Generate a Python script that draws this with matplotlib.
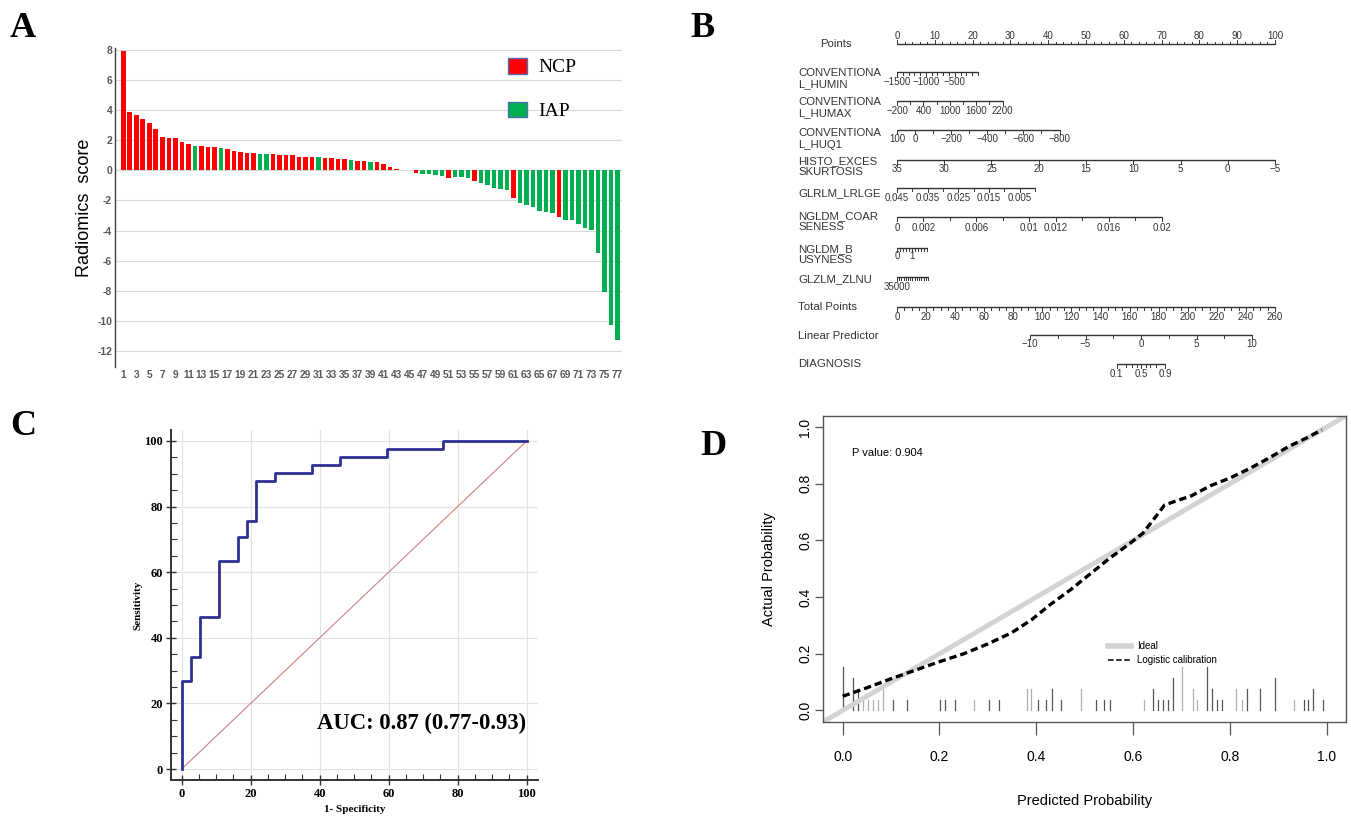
import numpy as np
import matplotlib
matplotlib.use("Agg")
import matplotlib.pyplot as plt
from matplotlib.patches import Patch
from matplotlib.lines import Line2D

# ---------------- data ----------------
# Panel A: radiomics score per case (sorted) and group
case_ids = list(range(1, 78))
radiomics_scores = [7.9, 3.9, 3.67, 3.38, 3.18, 2.73, 2.22, 2.16, 2.16, 1.89, 1.76, 1.64, 1.6, 1.53,
                    1.53, 1.47, 1.42, 1.27, 1.22, 1.16, 1.13, 1.11, 1.09, 1.07, 1.04, 1.0, 1.0, 0.89,
                    0.87, 0.87, 0.87, 0.82, 0.8, 0.78, 0.76, 0.71, 0.62, 0.62, 0.58, 0.58, 0.44, 0.22,
                    0.1, 0.04, 0.01,
                    -0.18, -0.22, -0.24, -0.29, -0.4, -0.49, -0.44, -0.44, -0.49, -0.73, -0.82, -0.96,
                    -1.18, -1.27, -1.33, -1.82, -2.18, -2.33, -2.44, -2.73, -2.78, -2.84, -3.07, -3.27,
                    -3.29, -3.56, -3.82, -3.93, -5.5, -8.1, -10.27, -11.29]
group_codes = ("NNNNNNNNNNN" "I" "NNN" "I" "NNNNN" "II" "NNNNNNN" "I" "NNNN" "I" "NN" "I"
               "NNNNN" "I" "N" "IIII" "N" "III" "N" "IIIII" "N" "IIIIII" "N" "IIIIIIIII")
group_names = {"N": "NCP", "I": "IAP"}
a_yticks = list(range(-12, 9, 2))

# Panel B: nomogram scales (value ticks, labelled values, value->points anchors)
points_ticks = list(range(0, 101, 2))
points_labels = list(range(0, 101, 10))
humin_ticks = list(range(-1500, -99, 100)); humin_labels = [-1500, -1000, -500]; humin_map = ((-1500, 0.0), (-100, 21.4))
humax_ticks = list(range(-200, 2201, 300)); humax_labels = [-200, 400, 1000, 1600, 2200]; humax_map = ((-200, 0.0), (2300, 29.1))
huq1_ticks = list(range(100, -801, -100)); huq1_labels = [100, 0, -200, -400, -600, -800]; huq1_map = ((100, 0.0), (-800, 43.0))
kurt_ticks = list(range(35, -6, -5)); kurt_labels = list(range(35, -6, -5)); kurt_map = ((35, 0.0), (-5, 100.0))
lrlge_ticks = [0.045, 0.04, 0.035, 0.03, 0.025, 0.02, 0.015, 0.01, 0.005, 0.0]
lrlge_labels = [0.045, 0.035, 0.025, 0.015, 0.005]; lrlge_map = ((0.045, 0.0), (0.0, 36.5))
coars_ticks = [0, 0.002, 0.004, 0.006, 0.008, 0.01, 0.012, 0.014, 0.016, 0.018, 0.02]
coars_labels = [0, 0.002, 0.006, 0.01, 0.012, 0.016, 0.02]; coars_map = ((0.0, 0.0), (0.02, 70.1))
busy_ticks = [0, 0.2, 0.4, 0.6, 0.8, 1.0, 1.2, 1.4, 1.6, 1.8, 2.0]; busy_labels = [0, 1]; busy_map = ((0, 0.0), (1, 4.0))
zlnu_ticks = list(range(35000, -1, -2500)); zlnu_labels = [35000]; zlnu_map = ((35000, 0.0), (0, 8.2))
total_ticks = list(range(0, 261, 5)); total_labels = list(range(0, 261, 20)); total_map = ((0, 0.0), (260, 100.0))
lp_ticks = [-10, -7.5, -5, -2.5, 0, 2.5, 5, 7.5, 10]; lp_labels = [-10, -5, 0, 5, 10]; lp_total = ((-10, 91.5), (10, 244.2))
diag_ticks = [0.1, 0.2, 0.3, 0.4, 0.5, 0.6, 0.7, 0.8, 0.9]; diag_labels = [0.1, 0.5, 0.9]

# Panel C: ROC curve (1-specificity, sensitivity), %
roc_fpr = [0, 0, 2.7, 5.4, 10.8, 16.2, 18.9, 21.6, 27.0, 37.8, 45.9, 59.5, 75.7, 100]
roc_tpr = [0, 26.8, 34.1, 46.3, 63.4, 70.7, 75.6, 87.8, 90.2, 92.7, 95.1, 97.6, 100, 100]
auc_text = "AUC: 0.87 (0.77-0.93)"

# Panel D: calibration
calib_x = [0.0, 0.05, 0.1, 0.15, 0.2, 0.25, 0.3, 0.35, 0.39, 0.43, 0.47, 0.51, 0.55, 0.59, 0.62,
           0.645, 0.665, 0.69, 0.72, 0.76, 0.80, 0.84, 0.88, 0.92, 0.96, 0.99]
calib_y = [0.05, 0.08, 0.112, 0.142, 0.172, 0.2, 0.235, 0.275, 0.32, 0.375, 0.425, 0.48, 0.535, 0.585, 0.625,
           0.68, 0.725, 0.74, 0.757, 0.793, 0.82, 0.853, 0.89, 0.93, 0.963, 0.99]
rug_x = [0.000, 0.021, 0.032, 0.043, 0.053, 0.063, 0.074, 0.083, 0.103, 0.132, 0.202, 0.211, 0.232, 0.271,
         0.303, 0.322, 0.381, 0.390, 0.403, 0.421, 0.432, 0.452, 0.492, 0.523, 0.540, 0.552, 0.623, 0.642,
         0.652, 0.662, 0.673, 0.683, 0.702, 0.723, 0.733, 0.752, 0.762, 0.773, 0.783, 0.813, 0.824, 0.835,
         0.862, 0.893, 0.932, 0.952, 0.962, 0.972, 0.993]
rug_count = [4, 3, 2, 1, 1, 1, 1, 2, 1, 1, 1, 1, 1, 1, 1, 1, 2, 2, 1, 1, 2, 1, 2, 1, 1, 1, 1, 2,
             1, 1, 1, 3, 4, 2, 1, 4, 2, 1, 1, 2, 1, 2, 2, 3, 1, 1, 1, 2, 1]
rug_light = [0, 0, 0, 1, 1, 1, 1, 1, 0, 0, 0, 0, 0, 1, 0, 0, 1, 1, 0, 0, 0, 0, 1, 0, 0, 0, 1, 0,
             0, 0, 0, 0, 1, 1, 1, 0, 0, 0, 0, 1, 1, 0, 0, 0, 1, 0, 0, 0, 0]
p_value_text = "P value: 0.904"

# ---------------- figure ----------------
W, H = 1351, 817
fig = plt.figure(figsize=(W / 100, H / 100), dpi=100)
fig.patch.set_facecolor("white")

SERIF = ["Liberation Serif", "DejaVu Serif"]
SANS = ["Liberation Sans", "DejaVu Sans"]


def px_axes(l, t, r, b):
    return fig.add_axes([l / W, 1 - b / H, (r - l) / W, (b - t) / H])


for letter, (lx, ly) in {"A": (10, 12), "B": (690, 12), "C": (10, 410), "D": (700, 430)}.items():
    fig.text(lx / W, 1 - ly / H, letter, family=SERIF, weight="bold", fontsize=26, ha="left", va="top")

# ---------------- Panel A ----------------
axA = px_axes(115, 48, 622, 366.8)
colors = {"NCP": "#FF0000", "IAP": "#00B050"}
bar_groups = [group_names[c] for c in group_codes]
axA.bar(case_ids, radiomics_scores, width=0.72, color=[colors[g] for g in bar_groups], zorder=3)
axA.set_xlim(1 - 1.28, 77 + 0.68)
axA.set_ylim(-13.05, 8.13)
for yv in a_yticks:
    axA.axhline(yv, color="#D9D9D9", lw=0.8, zorder=1)
axA.set_yticks(a_yticks)
axA.set_yticklabels([str(v) for v in a_yticks], family=SANS, weight="bold", fontsize=7.5, color="#595959")
axA.set_xticks(case_ids[::2])
axA.set_xticklabels([str(v) for v in case_ids[::2]], family=SANS, weight="bold", fontsize=7.3, color="#595959")
axA.tick_params(axis="both", length=0, pad=2)
for s in ["top", "right", "bottom"]:
    axA.spines[s].set_visible(False)
axA.spines["left"].set_color("#404040")
axA.spines["left"].set_linewidth(1.0)
axA.set_ylabel("Radiomics  score", family=SANS, fontsize=13, labelpad=3)
handles = [Patch(facecolor=colors["NCP"], edgecolor="#4F6FB0", lw=1.0),
           Patch(facecolor=colors["IAP"], edgecolor="#4F6FB0", lw=1.0)]
axA.legend(handles, ["NCP", "IAP"], loc="upper left", bbox_to_anchor=((508 - 115) / 507, (366.8 - 58) / 318.8),
           frameon=False, prop={"family": SERIF, "size": 14}, handlelength=1.0, handleheight=0.85,
           labelspacing=1.3, handletextpad=0.55, borderpad=0, borderaxespad=0)

# ---------------- Panel B (nomogram) ----------------
PX0, PXS = 897.0, 3.78
axB = px_axes(780, 20, 1300, 392)
axB.set_xlim((780 - PX0) / PXS, (1300 - PX0) / PXS)
axB.set_ylim(392, 20)
axB.axis("off")
NCOL = "#333333"


def linmap(anchor):
    (v0, p0), (v1, p1) = anchor
    return lambda v: p0 + (np.asarray(v, float) - v0) * (p1 - p0) / (v1 - v0)


def fmt(v):
    if isinstance(v, float) and not float(v).is_integer():
        return ("%g" % v)
    return str(int(v)).replace("-", "\u2212")


def draw_scale(yline, ticks, labels, pts_fn, ylab, up=False, names=(), name_ys=(), name_x=798):
    tp = pts_fn(ticks)
    axB.plot([tp.min(), tp.max()], [yline, yline], color=NCOL, lw=1.0, solid_capstyle="butt")
    lab_set = [float(v) for v in labels]
    d = -1 if up else 1
    for v, p in zip(ticks, tp):
        L = 4.0 if any(abs(float(v) - q) < 1e-12 for q in lab_set) else 2.5
        axB.plot([p, p], [yline, yline + d * L], color=NCOL, lw=0.7)
    for v in labels:
        axB.text(float(pts_fn([v])[0]), ylab, fmt(v), ha="center", va="center", fontsize=7,
                 family=SANS, color=NCOL)
    for nm, ny in zip(names, name_ys):
        axB.text((name_x - PX0) / PXS, ny, nm, ha="left", va="center", fontsize=8.2, family=SANS, color=NCOL)


ident = lambda v: np.asarray(v, float)
tot2pts = linmap(total_map)
lp2pts = lambda v: tot2pts(linmap(lp_total)(v))
diag2pts = lambda p: lp2pts(np.log(np.asarray(p, float) / (1 - np.asarray(p, float))))

draw_scale(44, points_ticks, points_labels, ident, 36, up=True, names=["Points"], name_ys=[44], name_x=820)
draw_scale(72, humin_ticks, humin_labels, linmap(humin_map), 82, names=["CONVENTIONA", "L_HUMIN"], name_ys=[73, 84])
draw_scale(101, humax_ticks, humax_labels, linmap(humax_map), 111, names=["CONVENTIONA", "L_HUMAX"], name_ys=[102, 113])
draw_scale(130, huq1_ticks, huq1_labels, linmap(huq1_map), 139, names=["CONVENTIONA", "L_HUQ1"], name_ys=[133, 145])
draw_scale(160, kurt_ticks, kurt_labels, linmap(kurt_map), 169, names=["HISTO_EXCES", "SKURTOSIS"], name_ys=[161, 172])
draw_scale(188, lrlge_ticks, lrlge_labels, linmap(lrlge_map), 198, names=["GLRLM_LRLGE"], name_ys=[193])
draw_scale(217, coars_ticks, coars_labels, linmap(coars_map), 228, names=["NGLDM_COAR", "SENESS"], name_ys=[216, 227])
draw_scale(248, busy_ticks, busy_labels, linmap(busy_map), 256, names=["NGLDM_B", "USYNESS"], name_ys=[249, 260])
draw_scale(277, zlnu_ticks, zlnu_labels, linmap(zlnu_map), 287, names=["GLZLM_ZLNU"], name_ys=[279])
draw_scale(307, total_ticks, total_labels, tot2pts, 317, names=["Total Points"], name_ys=[307])
draw_scale(335, lp_ticks, lp_labels, lp2pts, 344, names=["Linear Predictor"], name_ys=[336])
draw_scale(364, diag_ticks, diag_labels, diag2pts, 374, names=["DIAGNOSIS"], name_ys=[364])

# ---------------- Panel C (ROC) ----------------
axC = px_axes(170.7, 430, 538, 780)
axC.set_xlim(-3.19, 103.3)
axC.set_ylim(-3.35, 103.35)
axC.plot([0, 100], [0, 100], color="#D08080", lw=0.8, zorder=2)
axC.plot(roc_fpr, roc_tpr, drawstyle="steps-post", color="#2E3192", lw=2.0, zorder=3)
axC.set_xticks(range(0, 101, 20))
axC.set_yticks(range(0, 101, 20))
axC.set_xticks(range(0, 101, 5), minor=True)
axC.set_yticks(range(0, 101, 5), minor=True)
axC.grid(True, which="major", color="#E2E2E2", lw=0.8, zorder=0)
for s in ["top", "right"]:
    axC.spines[s].set_visible(False)
for s in ["left", "bottom"]:
    axC.spines[s].set_color("#333333")
    axC.spines[s].set_linewidth(1.4)
axC.tick_params(which="major", direction="inout", length=7, width=1, color="#333333", pad=2)
axC.tick_params(which="minor", direction="in", length=4, width=0.8, color="#333333")
for lab in axC.get_xticklabels() + axC.get_yticklabels():
    lab.set_fontfamily(SERIF); lab.set_fontweight("bold"); lab.set_fontsize(9)
axC.set_xlabel("1- Specificity", family=SERIF, weight="bold", fontsize=8, labelpad=4)
axC.set_ylabel("Sensitivity", family=SERIF, weight="bold", fontsize=8, labelpad=1)
axC.text(100, 14, auc_text, ha="right", va="center", family=SERIF, weight="bold", fontsize=16.3)

# ---------------- Panel D (calibration) ----------------
axD = px_axes(823.3, 415.7, 1346.1, 721.8)
axD.set_xlim(-0.04, 1.04)
axD.set_ylim(-0.04, 1.04)
axD.plot([-0.04, 1.04], [-0.04, 1.04], color="#D3D3D3", lw=3.5, solid_capstyle="butt", zorder=2)
axD.plot(calib_x, calib_y, color="black", lw=2.4, dashes=(2.2, 1.2), zorder=3)
unit_h = 0.038
for x, c, lt in zip(rug_x, rug_count, rug_light):
    axD.plot([x, x], [0, c * unit_h], color="#B0B0B0" if lt else "#555555", lw=0.9, zorder=1)
for s in axD.spines.values():
    s.set_color("#555555"); s.set_linewidth(1.0)
dt = [0.0, 0.2, 0.4, 0.6, 0.8, 1.0]
axD.set_xticks(dt)
axD.set_yticks(dt)
axD.set_xticklabels(["%.1f" % v for v in dt], family=SANS, fontsize=10)
axD.set_yticklabels(["%.1f" % v for v in dt], family=SANS, fontsize=10, rotation=90, va="center")
axD.tick_params(axis="x", length=9, width=0.9, color="#555555", pad=11)
axD.tick_params(axis="y", length=6, width=0.9, color="#555555", pad=2)
axD.set_xlabel("Predicted Probability", family=SANS, fontsize=10.5, labelpad=22)
axD.set_ylabel("Actual Probability", family=SANS, fontsize=10.5, labelpad=16)
axD.text(0.02, 0.91, p_value_text, family=SANS, fontsize=8, ha="left", va="center")
lh = [Line2D([], [], color="#D3D3D3", lw=4), Line2D([], [], color="black", lw=1.1, ls="--")]
axD.legend(lh, ["Ideal", "Logistic calibration"], loc="upper left",
           bbox_to_anchor=((1108 - 823.3) / 522.8, (721.8 - 641) / 306.1), frameon=False,
           prop={"family": SANS, "size": 7}, handlelength=2.4, labelspacing=0.45,
           handletextpad=0.6, borderpad=0, borderaxespad=0)

fig.savefig("out.png", dpi=100, facecolor="white")
